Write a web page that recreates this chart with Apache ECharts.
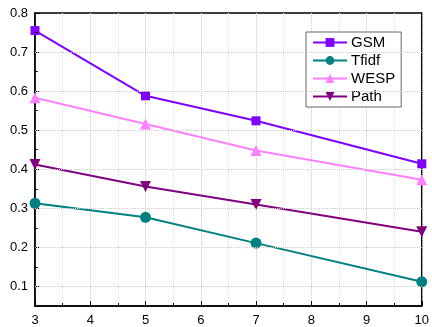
<!DOCTYPE html>
<html>
<head>
	<meta charset="utf-8">
	<title>chart</title>
	<style>
		body { margin: 0; background: #fff; }
		#main { width: 432px; height: 327px; }
	</style>
</head>
<body>
	<div id="main"></div>
<script type="text/javascript" src="https://cdn.jsdelivr.net/npm/echarts@6/dist/echarts.min.js"></script>
<script type="text/javascript">
	var xVals = [3, 5, 7, 10];
	var gsm = [0.755, 0.588, 0.524, 0.414];
	var tfidf = [0.313, 0.277, 0.211, 0.112];
	var wesp = [0.583, 0.516, 0.448, 0.373];
	var path = [0.412, 0.356, 0.310, 0.240];
	var yMajor = [0.1, 0.2, 0.3, 0.4, 0.5, 0.6, 0.7, 0.8];
	var yMinor = [0.05, 0.15, 0.25, 0.35, 0.45, 0.55, 0.65, 0.75];

	function pairs(ys) {
		return xVals.map(function (x, i) { return [x, ys[i]]; });
	}

	var myChart = echarts.init(document.getElementById('main'));

	function mkSeries(name, ys, color, symbol, rotate) {
		return {
			name: name,
			type: 'line',
			data: pairs(ys),
			symbol: symbol,
			symbolSize: symbol === 'rect' ? 9 : 11,
			symbolRotate: rotate || 0,
			showAllSymbol: true,
			lineStyle: { color: color, width: 2 },
			itemStyle: { color: color },
			clip: false
		};
	}

	var option = {
		animation: false,
		grid: {
			left: 35, right: 4, top: 13, bottom: 21,
			show: true,
			borderColor: '#000',
			borderWidth: 1.5
		},
		legend: {
			orient: 'vertical',
			left: 306, top: 32,
			itemWidth: 34, itemHeight: 11,
			itemGap: 3,
			padding: [3, 6, 3, 6],
			borderColor: '#666',
			borderWidth: 1,
			backgroundColor: '#fff',
			textStyle: { fontFamily: 'Liberation Sans, Arial', fontSize: 15, color: '#000', padding: [0, 0, 0, -1] },
			data: ['GSM', 'Tfidf', 'WESP', 'Path']
		},
		xAxis: {
			type: 'value',
			min: 3, max: 10, interval: 1,
			axisLine: { lineStyle: { color: '#000', width: 1.5 } },
			axisTick: { inside: true, length: 5, lineStyle: { color: '#000' } },
			minorTick: { show: true, splitNumber: 2, length: 3, lineStyle: { color: '#000' } },
			axisLabel: { color: '#000', fontFamily: 'Liberation Sans, Arial', fontSize: 13, margin: 8 },
			splitLine: { show: true, lineStyle: { color: '#ccc', type: 'dotted' } },
			minorSplitLine: { show: true, lineStyle: { color: '#ddd', type: 'dotted' } }
		},
		yAxis: {
			type: 'value',
			min: 0.05, max: 0.8,
			interval: 0.05,
			axisLine: { show: true, lineStyle: { color: '#000', width: 1.5 } },
			axisTick: {
				show: true, inside: true, length: 5, lineStyle: { color: '#000' },
				customValues: yMajor
			},
			axisLabel: {
				color: '#000', fontFamily: 'Liberation Sans, Arial', fontSize: 13, margin: 7,
				customValues: yMajor,
				formatter: function (v) { return v.toFixed(1); }
			},
			splitLine: { show: false }
		},
		series: [
			{
				type: 'line', silent: true, data: [],
				markLine: {
					silent: true, symbol: 'none', label: { show: false },
					lineStyle: { color: '#ccc', type: 'dotted', width: 1 },
					data: yMajor.slice(0, 7).map(function (v) { return { yAxis: v }; })
				}
			},
			{
				type: 'line', silent: true, data: [],
				markLine: {
					silent: true, symbol: 'none', label: { show: false },
					lineStyle: { color: '#000', type: 'solid', width: 1 },
					data: yMinor.map(function (v) {
						return [{ coord: [3, v] }, { coord: [3.05, v] }];
					})
				}
			},
			mkSeries('GSM', gsm, '#8000ff', 'rect'),
			mkSeries('Tfidf', tfidf, '#008080', 'circle'),
			mkSeries('WESP', wesp, '#ff80ff', 'triangle'),
			mkSeries('Path', path, '#800080', 'triangle', 180)
		]
	};

	myChart.setOption(option);
</script>
</body>
</html>
